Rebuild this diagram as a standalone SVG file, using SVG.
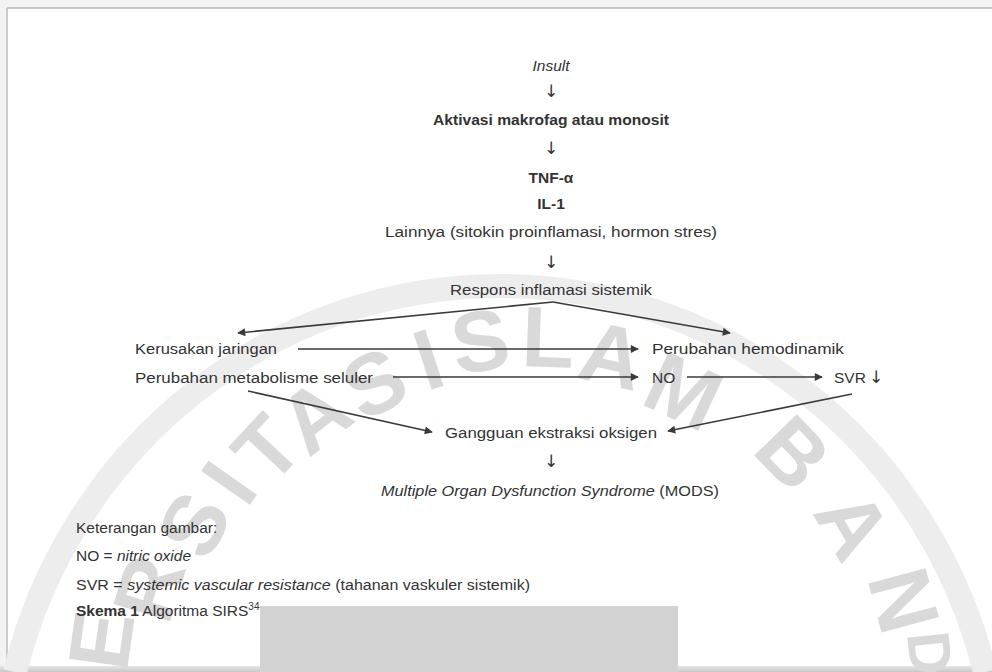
<svg xmlns="http://www.w3.org/2000/svg" width="992" height="672" viewBox="0 0 992 672">
<defs>
<marker id="ah" viewBox="0 0 10 10" refX="9" refY="5" markerWidth="10" markerHeight="8" markerUnits="userSpaceOnUse" orient="auto">
<path d="M0,0 L10,5 L0,10 z" fill="#3a3a3a"/>
</marker>
<linearGradient id="bot" x1="0" y1="0" x2="0" y2="1">
<stop offset="0" stop-color="#e6e6e6"/><stop offset="1" stop-color="#c8c8c8"/>
</linearGradient>
</defs>
<style>
.t{font-family:"Liberation Sans",Arial,sans-serif;font-size:15.5px;fill:#333333;text-anchor:middle}
.l{text-anchor:start}
.i{font-style:italic}
.b{font-weight:bold}
.ar{font-family:"DejaVu Sans",sans-serif;font-size:17px;fill:#333333;text-anchor:middle}
.wm{font-family:"Liberation Sans",Arial,sans-serif;font-size:86px;font-weight:bold;fill:#d9d9d9;text-anchor:middle}
.c{stroke:#3a3a3a;stroke-width:1.6;fill:none;marker-end:url(#ah)}
</style>
<rect width="992" height="672" fill="#f3f3f3"/>
<rect x="7" y="8" width="985" height="660" fill="#ffffff"/>
<line x1="7" y1="8" x2="992" y2="8" stroke="#b5b5b5" stroke-width="1.5"/>
<line x1="7" y1="8" x2="7" y2="668" stroke="#bdbdbd" stroke-width="1.5"/>
<rect x="0" y="666" width="992" height="6" fill="url(#bot)"/>
<g id="watermark">
<path d="M 15 672 A 500 510 0 0 1 985 672" fill="none" stroke="#ededed" stroke-width="24"/>
<g transform="translate(100,640) rotate(-82)"><text class="wm" y="31">E</text></g>
<g transform="translate(148,588) rotate(-73)"><text class="wm" y="31">R</text></g>
<g transform="translate(193,524) rotate(-62)"><text class="wm" y="31">S</text></g>
<g transform="translate(228,482) rotate(-55)"><text class="wm" y="31">I</text></g>
<g transform="translate(266,448) rotate(-47)"><text class="wm" y="31">T</text></g>
<g transform="translate(314,415) rotate(-38)"><text class="wm" y="31">A</text></g>
<g transform="translate(374,382) rotate(-27)"><text class="wm" y="31">S</text></g>
<g transform="translate(428,358) rotate(-18)"><text class="wm" y="31">I</text></g>
<g transform="translate(480,340) rotate(-9)"><text class="wm" y="31">S</text></g>
<g transform="translate(548,336) rotate(2)"><text class="wm" y="31">L</text></g>
<g transform="translate(612,354) rotate(13)"><text class="wm" y="31">A</text></g>
<g transform="translate(684,390) rotate(25)"><text class="wm" y="31">M</text></g>
<g transform="translate(794,452) rotate(46)"><text class="wm" y="31">B</text></g>
<g transform="translate(854,524) rotate(60)"><text class="wm" y="31">A</text></g>
<g transform="translate(905,600) rotate(75)"><text class="wm" y="31">N</text></g>
<g transform="translate(940,652) rotate(84)"><text class="wm" y="31" style="font-size:60px">D</text></g>
</g>
<rect x="260" y="606" width="418" height="66" fill="#d2d2d2"/>
<g id="connectors">
<line class="c" x1="553" y1="302" x2="238" y2="333"/>
<line class="c" x1="553" y1="302" x2="730" y2="333"/>
<line class="c" x1="298" y1="349" x2="638" y2="349"/>
<line class="c" x1="393" y1="377" x2="638" y2="377"/>
<line class="c" x1="687" y1="377" x2="822" y2="377"/>
<line class="c" x1="248" y1="391" x2="432" y2="432"/>
<line class="c" x1="852" y1="394" x2="668" y2="431"/>
</g>
<g id="insult"><text class="t i" x="551" y="71">Insult</text></g>
<g id="arrow1"><text class="ar" x="551" y="97">↓</text></g>
<g id="aktivasi"><text class="t b" x="551" y="125" textLength="236" lengthAdjust="spacingAndGlyphs">Aktivasi makrofag atau monosit</text></g>
<g id="arrow2"><text class="ar" x="551" y="154">↓</text></g>
<g id="tnf"><text class="t b" x="551" y="183">TNF-α</text></g>
<g id="il1"><text class="t b" x="551" y="209">IL-1</text></g>
<g id="lainnya"><text class="t" x="551" y="237" textLength="332" lengthAdjust="spacingAndGlyphs">Lainnya (sitokin proinflamasi, hormon stres)</text></g>
<g id="arrow3"><text class="ar" x="551" y="268">↓</text></g>
<g id="respons"><text class="t" x="551" y="295" textLength="202" lengthAdjust="spacingAndGlyphs">Respons inflamasi sistemik</text></g>
<g id="kerusakan"><text class="t l" x="135" y="354" textLength="142" lengthAdjust="spacingAndGlyphs">Kerusakan jaringan</text></g>
<g id="hemodinamik"><text class="t l" x="652" y="354" textLength="192" lengthAdjust="spacingAndGlyphs">Perubahan hemodinamik</text></g>
<g id="metabolisme"><text class="t l" x="135" y="383" textLength="238" lengthAdjust="spacingAndGlyphs">Perubahan metabolisme seluler</text></g>
<g id="no"><text class="t l" x="652" y="383">NO</text></g>
<g id="svr"><text class="t l" x="834" y="383">SVR<tspan class="ar" style="text-anchor:start" dx="3">↓</tspan></text></g>
<g id="gangguan"><text class="t" x="551" y="438" textLength="212" lengthAdjust="spacingAndGlyphs">Gangguan ekstraksi oksigen</text></g>
<g id="arrow4"><text class="ar" x="551" y="467">↓</text></g>
<g id="mods"><text class="t" x="550" y="496" textLength="338" lengthAdjust="spacingAndGlyphs"><tspan font-style="italic">Multiple Organ Dysfunction Syndrome</tspan> (MODS)</text></g>
<g id="legend">
<text class="t l" x="76" y="533">Keterangan gambar:</text>
<text class="t l" x="76" y="561">NO = <tspan font-style="italic">nitric oxide</tspan></text>
<text class="t l" x="76" y="590" textLength="454" lengthAdjust="spacingAndGlyphs">SVR = <tspan font-style="italic">systemic vascular resistance</tspan> (tahanan vaskuler sistemik)</text>
<text class="t l" x="76" y="616"><tspan font-weight="bold">Skema 1</tspan> Algoritma SIRS<tspan dy="-6" style="font-size:10px">34</tspan></text>
</g>
</svg>
